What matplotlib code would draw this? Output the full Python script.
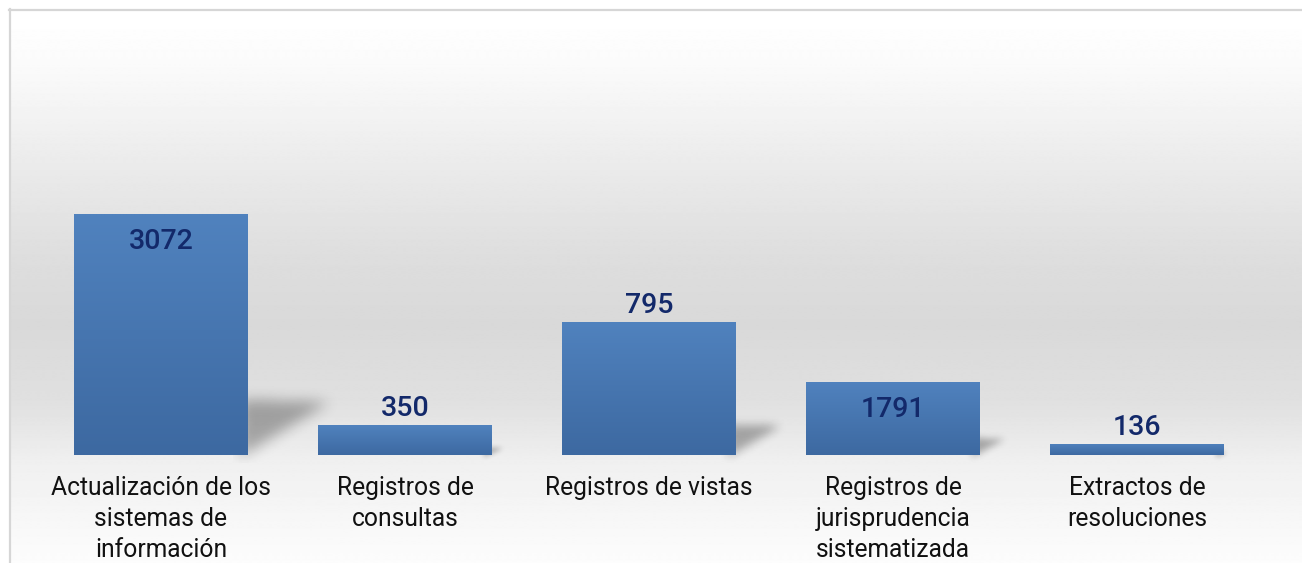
import numpy as np
import matplotlib
matplotlib.use("Agg")
import matplotlib.pyplot as plt
from matplotlib.path import Path

# data (bar heights are what is drawn, the texts are what is printed)
categories = [
    "Actualización de los\nsistemas de\ninformación",
    "Registros de\nconsultas",
    "Registros de vistas",
    "Registros de\njurisprudencia\nsistematizada",
    "Extractos de\nresoluciones",
]
bar_values = [3072, 382, 1696, 931, 144]
value_labels = ["3072", "350", "795", "1791", "136"]
label_inside = [True, False, False, True, False]

W, H, DPI = 1302, 563, 100
fig = plt.figure(figsize=(W / DPI, H / DPI), dpi=DPI)
fig.patch.set_facecolor("white")

# background panel in pixel coords
bg = fig.add_axes([0, 0, 1, 1])
bg.set_xlim(0, W)
bg.set_ylim(H, 0)
bg.axis("off")

ys = np.arange(H)
stops_y = [10, 60, 150, 250, 320, 400, 460, 563]
stops_v = [1.0, 0.98, 0.925, 0.87, 0.85, 0.88, 0.94, 0.99]
grey = np.interp(ys, stops_y, stops_v)
grad = np.repeat(grey[:, None], 2, axis=1)
bg.imshow(grad, cmap="gray", vmin=0, vmax=1, extent=(10, W, H, 10),
          aspect="auto", interpolation="bilinear", zorder=0)
bg.plot([9.5, 9.5], [9, H], color="#d6d6d6", lw=1.6, zorder=1)
bg.plot([9, W], [9.5, 9.5], color="#d6d6d6", lw=1.6, zorder=1)

# main axes
ax_l, ax_r, ax_bot, ax_top = 39, 1259, 455, 20
ax = fig.add_axes([ax_l / W, (H - ax_bot) / H, (ax_r - ax_l) / W, (ax_bot - ax_top) / H])
ax.patch.set_alpha(0)
ymax = 3072 * (ax_bot - ax_top) / 241.0
x = np.arange(len(categories))
bw = 0.713
bars = ax.bar(x, bar_values, width=bw, color="none", edgecolor="none", zorder=2)
ax.set_xlim(-0.5, len(categories) - 0.5)
ax.set_ylim(0, ymax)

# gradient fill for the bars
top_c = np.array([80, 130, 190]) / 255
bot_c = np.array([61, 105, 161]) / 255
t = np.linspace(0, 1, 64)[:, None]
bar_img = (top_c * (1 - t) + bot_c * t)[:, None, :]
for b in bars:
    x0, w, h = b.get_x(), b.get_width(), b.get_height()
    im = ax.imshow(bar_img, extent=(x0, x0 + w, 0, h), aspect="auto",
                   interpolation="bilinear", zorder=2)
    im.set_clip_path(b)
ax.set_xlim(-0.5, len(categories) - 0.5)
ax.set_ylim(0, ymax)
ax.set_aspect("auto")

# soft shadows behind bars (pixel space of background axes)
def blur(a, r, n=3):
    k = np.ones(2 * r + 1) / (2 * r + 1)
    for _ in range(n):
        a = np.apply_along_axis(lambda v: np.convolve(v, k, mode="same"), 0, a)
        a = np.apply_along_axis(lambda v: np.convolve(v, k, mode="same"), 1, a)
    return a

for b in bars:
    (xr, yb), = ax.transData.transform([(b.get_x() + b.get_width(), 0)])
    (_, yt), = ax.transData.transform([(0, b.get_height())])
    yb, yt = H - yb, H - yt
    hp = yb - yt
    tri = Path([(xr - 8, yb + 2), (xr - 8, yb - 0.23 * hp),
                (xr + 0.34 * hp, yb - 0.22 * hp), (xr - 8, yb + 2)])
    m = 20
    gx = np.arange(int(xr - 14), int(xr + 0.34 * hp + m))
    gy = np.arange(int(yb - 0.23 * hp - m), int(yb + 8))
    XX, YY = np.meshgrid(gx + 0.5, gy + 0.5)
    mask = tri.contains_points(np.c_[XX.ravel(), YY.ravel()]).reshape(XX.shape).astype(float)
    mask = blur(mask, max(2, int(0.02 * hp + 2)))
    rgba = np.zeros(mask.shape + (4,))
    rgba[..., 3] = mask * 0.3
    bg.imshow(rgba, extent=(gx[0], gx[-1] + 1, gy[-1] + 1, gy[0]),
              aspect="auto", interpolation="bilinear", zorder=2)
bg.set_xlim(0, W)
bg.set_ylim(H, 0)

# value labels
for b, txt, inside in zip(bars, value_labels, label_inside):
    cx = b.get_x() + b.get_width() / 2
    off = -20 if inside else 12
    ax.annotate(txt, (cx, b.get_height()), xytext=(0, off), textcoords="offset points",
                ha="center", va="center", fontsize=20.5, color="#13296a",
                family=["Roboto", "DejaVu Sans"], fontweight="medium", zorder=4)

ax.set_xticks(x)
ax.set_xticklabels(categories, fontsize=17.7, family=["Roboto", "DejaVu Sans"],
                   color="#111111", linespacing=1.38)
ax.tick_params(axis="x", length=0, pad=15)
ax.set_yticks([])
for s in ax.spines.values():
    s.set_visible(False)

fig.savefig("out.png", dpi=DPI)
